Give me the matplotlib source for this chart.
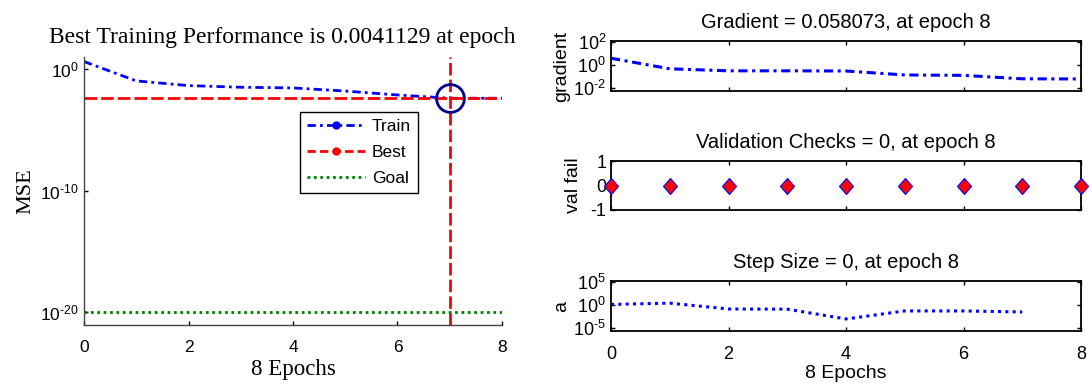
import matplotlib
matplotlib.use('Agg')
import matplotlib.pyplot as plt
import numpy as np
from matplotlib.lines import Line2D
from matplotlib.ticker import FixedLocator, FuncFormatter, NullLocator

plt.rcParams['font.family'] = ['Liberation Sans', 'DejaVu Sans']
plt.rcParams['mathtext.fontset'] = 'custom'
plt.rcParams['mathtext.rm'] = 'Liberation Sans'
plt.rcParams['mathtext.it'] = 'Liberation Sans:italic'
plt.rcParams['mathtext.bf'] = 'Liberation Sans:bold'
plt.rcParams['axes.unicode_minus'] = False

# ---------------- data ----------------
epochs = [0, 1, 2, 3, 4, 5, 6, 7, 8]
train_mse = [4.3, 0.11, 0.045, 0.033, 0.029, 0.016, 0.0076, 0.0041129, 0.0041129]
best_perf = 0.0041129
best_epoch = 7
goal = 1e-20
gradient = [3.8, 0.45, 0.30, 0.30, 0.29, 0.13, 0.12, 0.06, 0.058073]
val_fail = [0, 0, 0, 0, 0, 0, 0, 0, 0]
step_epochs = [0, 1, 2, 3, 4, 5, 6, 7]
step_size = [1.2, 2.3, 0.12, 0.11, 8e-4, 0.045, 0.045, 0.027]

left_title = "Best Training Performance is 0.0041129 at epoch"
grad_title = "Gradient = 0.058073, at epoch 8"
val_title = "Validation Checks = 0, at epoch 8"
step_title = "Step Size = 0, at epoch 8"
xlab = "8 Epochs"

W, H = 1091, 385
fig = plt.figure(figsize=(W / 100, H / 100), dpi=100)


def rect(x0, y0, x1, y1):
    return [x0 / W, 1 - y1 / H, (x1 - x0) / W, (y1 - y0) / H]


def pow10(v, pos):
    e = int(round(np.log10(v)))
    if e < 0:
        return r'$10^{\text{-}%d}$' % (-e)
    return r'$10^{%d}$' % e


serif = ['Liberation Serif', 'DejaVu Serif']
diamond = [(0, 1), (0.875, 0), (0, -1), (-0.875, 0), (0, 1)]

# ---------------- left panel ----------------
ax = fig.add_axes(rect(84, 57, 502, 325))
ax.plot(epochs, train_mse, color='blue', lw=2, linestyle=(0, (3, 1.5, 1, 1.5)))
ax.axhline(best_perf, color='red', lw=2, linestyle=(0, (4.5, 1.5)))
ax.axvline(best_epoch, color='red', lw=2, linestyle=(0, (4.5, 1.5)))
ax.plot(epochs, [goal] * len(epochs), color=(0, 0.5, 0), lw=2, linestyle=(0, (1, 1.3)))
ax.plot([best_epoch], [best_perf], marker='o', ms=20, mfc='none', mec=(0, 0, 0.55), mew=2)
ax.set_yscale('log')
ax.set_xlim(0, 8)
ax.set_ylim(10 ** -21.07, 10 ** 1.01)
ax.yaxis.set_major_locator(FixedLocator([1e-20, 1e-10, 1e0]))
ax.yaxis.set_minor_locator(NullLocator())
ax.yaxis.set_major_formatter(FuncFormatter(pow10))
ax.set_xticks([0, 2, 4, 6, 8])
for s in ['top', 'right']:
    ax.spines[s].set_visible(False)
for s in ['left', 'bottom']:
    ax.spines[s].set_color('#444444')
    ax.spines[s].set_linewidth(1)
ax.tick_params(direction='in', length=3, labelsize=12.5, colors='black', width=1)
ax.tick_params(axis='y', pad=4)
ax.tick_params(axis='x', pad=11)
ax.set_title(left_title, family=serif, fontsize=17, x=0.474, pad=10)
ax.set_xlabel(xlab, family=serif, fontsize=16.5, labelpad=3)
ax.set_ylabel('MSE', family=serif, fontsize=16, labelpad=3)

handles = [
    Line2D([], [], color='blue', lw=2, linestyle=(0, (3, 1.5, 1, 1.5)), marker='o', ms=5),
    Line2D([], [], color='red', lw=2, linestyle=(0, (3, 1.5)), marker='o', ms=5),
    Line2D([], [], color=(0, 0.5, 0), lw=2, linestyle=(0, (1, 1.3))),
]
leg = ax.legend(handles, ['Train', 'Best', 'Goal'], loc='upper left',
                bbox_to_anchor=(0.517, 1 - (112 - 57) / 268), borderaxespad=0,
                fontsize=12.5, numpoints=1, handlelength=3.3, handletextpad=0.4,
                labelspacing=0.6, borderpad=0.42, fancybox=False, framealpha=1,
                edgecolor='black')
leg.get_frame().set_linewidth(1)


def style_right(a):
    for s in a.spines.values():
        s.set_linewidth(1.3)
        s.set_color('black')
    a.tick_params(direction='in', length=3, labelsize=13, top=True, right=True,
                  width=1)
    a.set_xlim(0, 8)
    a.set_xticks([0, 2, 4, 6, 8])


# ---------------- gradient ----------------
a1 = fig.add_axes(rect(611, 41, 1081, 91))
a1.plot(epochs, gradient, color='blue', lw=2.2, linestyle=(0, (3, 1.5, 1, 1.5)))
a1.set_yscale('log')
a1.set_ylim(10 ** -2.29, 10 ** 2.09)
a1.yaxis.set_major_locator(FixedLocator([1e-2, 1e0, 1e2]))
a1.yaxis.set_minor_locator(NullLocator())
a1.yaxis.set_major_formatter(FuncFormatter(pow10))
style_right(a1)
a1.tick_params(labelbottom=False)
a1.set_title(grad_title, fontsize=14.5, pad=9)
a1.set_ylabel('gradient', fontsize=14, labelpad=2)

# ---------------- validation checks ----------------
a2 = fig.add_axes(rect(611, 161, 1081, 210))
a2.plot(epochs, val_fail, linestyle='none', marker=diamond, ms=11.5, mfc='red',
        mec='blue', mew=0.8, clip_on=False, zorder=5)
a2.set_ylim(-1, 1)
a2.set_yticks([-1, 0, 1])
style_right(a2)
a2.tick_params(labelbottom=False)
a2.set_title(val_title, fontsize=14.5, pad=9)
a2.set_ylabel('val fail', fontsize=14, labelpad=6)

# ---------------- step size ----------------
a3 = fig.add_axes(rect(611, 281, 1081, 331))
a3.plot(step_epochs, step_size, color='blue', lw=2.2, linestyle=(0, (1, 1.4)))
a3.set_yscale('log')
a3.set_ylim(10 ** -5.73, 10 ** 5.2)
a3.yaxis.set_major_locator(FixedLocator([1e-5, 1e0, 1e5]))
a3.yaxis.set_minor_locator(NullLocator())
a3.yaxis.set_major_formatter(FuncFormatter(pow10))
style_right(a3)
a3.tick_params(axis='x', pad=11)
a3.set_title(step_title, fontsize=14.5, pad=9)
a3.set_ylabel('a', fontsize=14, labelpad=2)
a3.set_xlabel(xlab, fontsize=14, labelpad=1)

fig.savefig('out.png', dpi=100)
